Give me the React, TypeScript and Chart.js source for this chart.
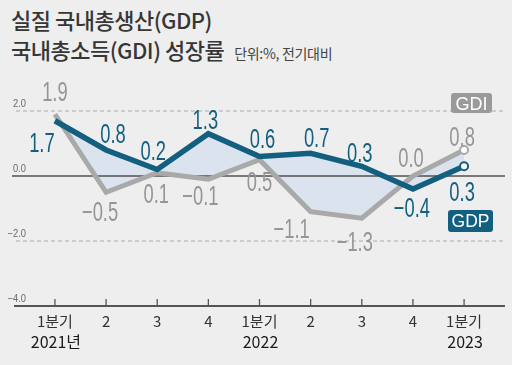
import React, { useEffect, useRef } from "react";
import { Chart, registerables } from "chart.js";

Chart.register(...registerables);

const quarters = ["1분기", "2", "3", "4", "1분기", "2", "3", "4", "1분기"];
const years = ["2021년", "", "", "", "2022", "", "", "", "2023"];
const gdp = [1.7, 0.8, 0.2, 1.3, 0.6, 0.7, 0.3, -0.4, 0.3];
const gdi = [1.9, -0.5, 0.1, -0.1, 0.5, -1.1, -1.3, 0.0, 0.8];
const yTicks = [2, 0, -2, -4];

// label placement (offset of label centre from its point, in px)
const gdpLabelOffsets = [[-13, 22], [7, -17], [-4, -19], [-3, -14], [3, -18], [6, -16], [-2, -14], [-1, 18], [-2, 25]];
const gdiLabelOffsets = [[0, -23], [-6, 19], [-1, 21], [-8, 16], [0, 22], [-19, 17], [-7, 23], [-2, -19], [-2, -14]];

const BLUE = "#135f80";
const GRAY = "#a9a9a9";
const GRAY_TEXT = "#959595";
const BG = "#eeeeee";

const fmt = (v: number) => (v < 0 ? "\u2212" + Math.abs(v).toFixed(1) : v.toFixed(1));

function condensedText(ctx: CanvasRenderingContext2D, text: string, cx: number, cy: number, size: number, color: string, sx: number) {
  ctx.save();
  ctx.translate(cx, cy);
  ctx.scale(sx, 1);
  ctx.font = `${size}px 'Liberation Sans', Arial, sans-serif`;
  ctx.fillStyle = color;
  ctx.textAlign = "center";
  ctx.textBaseline = "alphabetic";
  ctx.fillText(text, 0, size * 0.358);
  ctx.restore();
}

function roundRect(ctx: CanvasRenderingContext2D, x: number, y: number, w: number, h: number, r: number) {
  ctx.beginPath();
  ctx.moveTo(x + r, y);
  ctx.lineTo(x + w - r, y);
  ctx.quadraticCurveTo(x + w, y, x + w, y + r);
  ctx.lineTo(x + w, y + h - r);
  ctx.quadraticCurveTo(x + w, y + h, x + w - r, y + h);
  ctx.lineTo(x + r, y + h);
  ctx.quadraticCurveTo(x, y + h, x, y + h - r);
  ctx.lineTo(x, y + r);
  ctx.quadraticCurveTo(x, y, x + r, y);
  ctx.closePath();
}

const overlay = {
  id: "overlay",
  beforeDatasetsDraw(chart: any) {
    const ctx: CanvasRenderingContext2D = chart.ctx;
    const ys = chart.scales.y;
    const xs = chart.scales.x;
    const { left, right } = chart.chartArea;
    ctx.save();
    yTicks.forEach((v) => {
      const y = ys.getPixelForValue(v);
      ctx.beginPath();
      if (v === 0) {
        ctx.setLineDash([]);
        ctx.strokeStyle = "#505050";
        ctx.lineWidth = 1.5;
        ctx.moveTo(left - 2, y);
        ctx.lineTo(right, y);
      } else if (v === yTicks[yTicks.length - 1]) {
        ctx.setLineDash([]);
        ctx.strokeStyle = "#555";
        ctx.lineWidth = 2;
        ctx.moveTo(left, y);
        ctx.lineTo(right, y);
      } else {
        ctx.setLineDash([4, 3]);
        ctx.strokeStyle = "#aaaaaa";
        ctx.lineWidth = 1;
        ctx.moveTo(left + 2, y);
        ctx.lineTo(right, y);
      }
      ctx.stroke();
    });
    ctx.setLineDash([]);
    const yb = ys.getPixelForValue(yTicks[yTicks.length - 1]);
    ctx.strokeStyle = "#555";
    ctx.lineWidth = 1.3;
    quarters.forEach((_, i) => {
      const x = xs.getPixelForValue(i);
      ctx.beginPath();
      ctx.moveTo(x, yb - 7);
      ctx.lineTo(x, yb);
      ctx.stroke();
    });
    ctx.restore();
  },
  afterDatasetsDraw(chart: any) {
    const ctx: CanvasRenderingContext2D = chart.ctx;
    const ys = chart.scales.y;
    const xs = chart.scales.x;
    const { right } = chart.chartArea;
    // value labels
    gdi.forEach((v, i) => {
      const [dx, dy] = gdiLabelOffsets[i];
      condensedText(ctx, fmt(v), xs.getPixelForValue(i) + dx, ys.getPixelForValue(v) + dy, 27, GRAY_TEXT, 0.68);
    });
    gdp.forEach((v, i) => {
      const [dx, dy] = gdpLabelOffsets[i];
      condensedText(ctx, fmt(v), xs.getPixelForValue(i) + dx, ys.getPixelForValue(v) + dy, 27, BLUE, 0.68);
    });
    // y tick labels
    ctx.save();
    ctx.font = "11px 'Liberation Sans', Arial, sans-serif";
    ctx.fillStyle = "#6a6a6a";
    ctx.textAlign = "right";
    ctx.textBaseline = "alphabetic";
    yTicks.forEach((v) => {
      const y = ys.getPixelForValue(v);
      ctx.save();
      ctx.translate(26, y - 4);
      ctx.scale(0.85, 1);
      ctx.fillText(fmt(v), 0, 0);
      ctx.restore();
    });
    ctx.restore();
    // x labels
    const yb = ys.getPixelForValue(yTicks[yTicks.length - 1]);
    ctx.save();
    ctx.textAlign = "center";
    ctx.textBaseline = "middle";
    quarters.forEach((q, i) => {
      const x = xs.getPixelForValue(i);
      ctx.font = "15px 'Noto Sans CJK KR', sans-serif";
      ctx.fillStyle = "#333";
      ctx.fillText(q, x, yb + 15);
      if (years[i]) {
        ctx.font = "16px 'Noto Sans CJK KR', sans-serif";
        ctx.fillStyle = "#1a1a1a";
        ctx.fillText(years[i], x + 1, yb + 36);
      }
    });
    ctx.restore();
    // series tags
    ctx.save();
    const tagX = right - 54;
    roundRect(ctx, tagX, 93, 41, 20, 3);
    ctx.fillStyle = "#9a9a9a";
    ctx.fill();
    condensedText(ctx, "GDI", tagX + 20.5, 103, 19, "#ffffff", 0.95);
    roundRect(ctx, tagX - 3, 210, 45, 22, 3);
    ctx.fillStyle = BLUE;
    ctx.fill();
    condensedText(ctx, "GDP", tagX + 19.5, 221, 18, "#ffffff", 0.97);
    ctx.restore();
  },
};

export default function App() {
  const ref = useRef<HTMLCanvasElement>(null);
  useEffect(() => {
    if (!ref.current) return;
    const last = gdp.length - 1;
    const chart = new Chart(ref.current, {
      type: "line",
      data: {
        datasets: [
          {
            label: "GDP",
            data: gdp.map((v, i) => ({ x: i, y: v })),
            borderColor: BLUE,
            borderWidth: 5.5,
            backgroundColor: "#dae3ee",
            fill: { target: 1 },
            tension: 0,
            borderJoinStyle: "miter",
            pointRadius: (c: any) => (c.dataIndex === last ? 4 : 0),
            pointBackgroundColor: "#ffffff",
            pointBorderColor: BLUE,
            pointBorderWidth: 2,
          },
          {
            label: "GDI",
            data: gdi.map((v, i) => ({ x: i, y: v })),
            borderColor: GRAY,
            borderWidth: 5,
            fill: false,
            tension: 0,
            borderJoinStyle: "miter",
            pointRadius: (c: any) => (c.dataIndex === last ? 4 : 0),
            pointBackgroundColor: "#ffffff",
            pointBorderColor: GRAY,
            pointBorderWidth: 2,
          },
        ],
      },
      options: {
        animation: false,
        responsive: false,
        events: [],
        layout: { padding: { left: 14, right: 7, top: 78.5, bottom: 59 } },
        scales: {
          x: { type: "linear", min: -0.8, max: 8.8, display: false },
          y: { type: "linear", min: -4, max: 3, display: false },
        },
        plugins: {
          legend: { display: false },
          tooltip: { enabled: false },
          filler: { drawTime: "beforeDatasetsDraw" },
        },
      } as any,
      plugins: [overlay],
    });
    return () => chart.destroy();
  }, []);

  return (
    <div style={{ position: "absolute", left: 0, top: 0, width: 512, height: 365, background: BG, overflow: "hidden" }}>
      <div
        style={{
          position: "absolute",
          left: 11,
          top: 4,
          fontFamily: "'Noto Sans CJK KR', sans-serif",
          color: "#363636",
          fontSize: 22,
          fontWeight: 500,
          letterSpacing: "-0.5px",
          lineHeight: "30px",
          whiteSpace: "nowrap",
        }}
      >
        <div>실질 국내총생산(GDP)</div>
        <div>
          국내총소득(GDI) 성장률
          <span style={{ fontSize: 14, letterSpacing: "-0.3px", fontWeight: 400, color: "#444", marginLeft: 10 }}>단위:%, 전기대비</span>
        </div>
      </div>
      <canvas ref={ref} width={512} height={365} style={{ position: "absolute", left: 0, top: 0 }} />
    </div>
  );
}
